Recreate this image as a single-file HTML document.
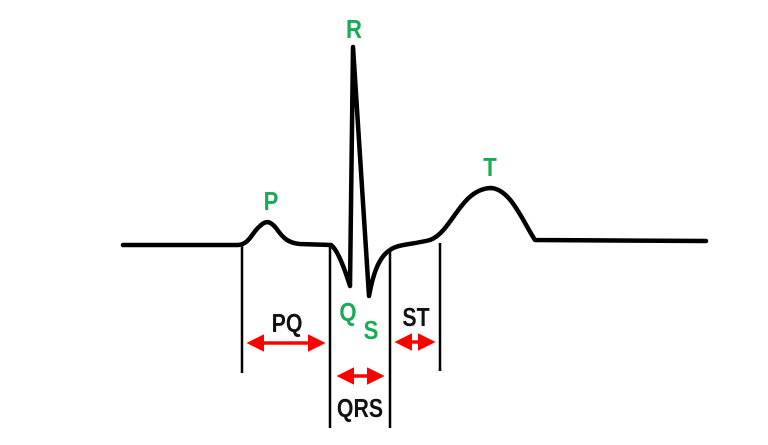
<!DOCTYPE html>
<html><head><style>body{margin:0;background:#fff}svg{display:block}</style></head><body>
<svg width="768" height="445" viewBox="0 0 768 445" xmlns="http://www.w3.org/2000/svg">
<defs>
<marker id="a" markerWidth="5" markerHeight="5" refX="4" refY="2.5" orient="auto-start-reverse" markerUnits="strokeWidth"><path d="M0,0L5,2.5L0,5z" fill="#f00"/></marker>
</defs>
<path d="M123,245 L238,245 C250,244 252,232 260,226 C266,220 270,221 276,228 C283,238 288,243 300,244 L331,245 C338,250 345,270 350,286 L353,47 L369,296 C372,280 377,258 390,250 C398,244 410,245 430,240 C452,232 460,190 490,188 C510,188 522,220 535,240 L706,241" fill="none" stroke="#000" stroke-width="4.5" stroke-linejoin="round" stroke-linecap="round"/>
<g stroke="#000" stroke-width="2.5">
<line x1="242" y1="245" x2="242" y2="373"/>
<line x1="330" y1="246" x2="330" y2="428"/>
<line x1="390" y1="252" x2="390" y2="428"/>
<line x1="440" y1="243" x2="440" y2="371"/>
</g>
<g stroke="#f00" stroke-width="3.5" marker-start="url(#a)" marker-end="url(#a)">
<line x1="250" y1="343" x2="322" y2="343"/>
<line x1="340" y1="376" x2="381" y2="376"/>
<line x1="398" y1="342" x2="432" y2="342"/>
</g>
<g font-family="Liberation Sans, sans-serif" font-weight="bold" font-size="26" text-anchor="middle">
<text transform="translate(287,332) scale(0.82,1)" fill="#111">PQ</text>
<text transform="translate(360,417) scale(0.82,1)" fill="#111">QRS</text>
<text transform="translate(416,326) scale(0.82,1)" fill="#111">ST</text>
<g fill="#1aaa55">
<text transform="translate(271,210) scale(0.85,1)">P</text>
<text transform="translate(354,38) scale(0.85,1)">R</text>
<text transform="translate(348,321) scale(0.85,1)">Q</text>
<text transform="translate(371,339) scale(0.85,1)">S</text>
<text transform="translate(490,176) scale(0.85,1)">T</text>
</g>
</g>
</svg>
</body></html>
